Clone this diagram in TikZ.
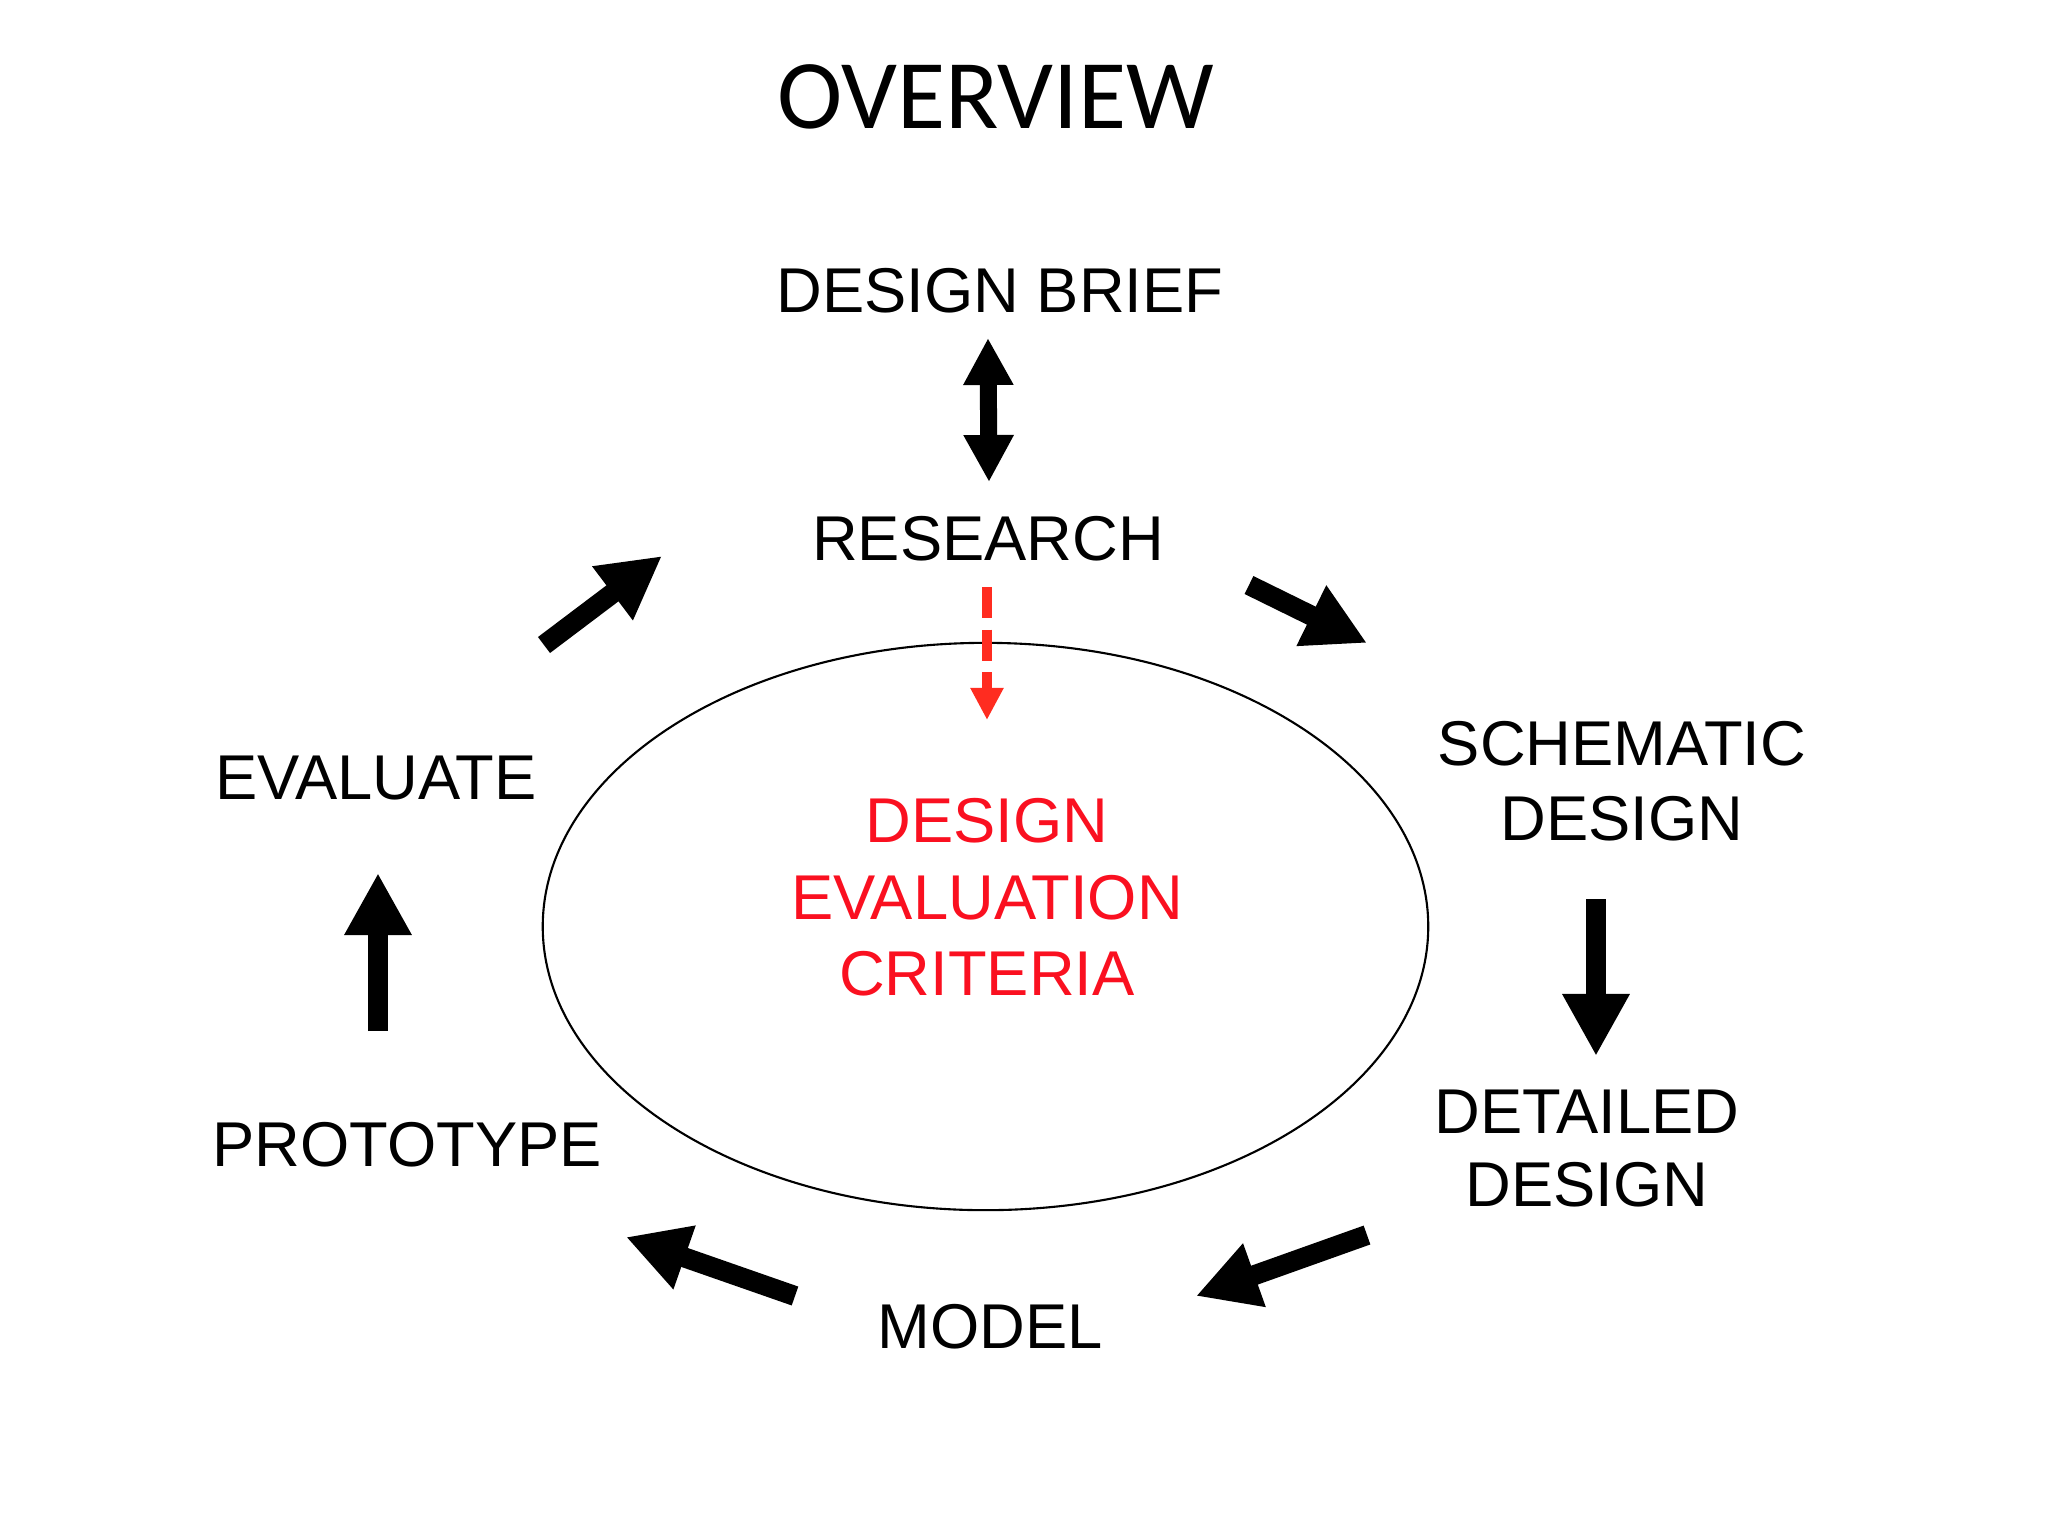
\documentclass[tikz,border=0pt]{standalone}
\usepackage{fontspec}
\setmainfont{Liberation Sans}
\newfontfamily\titlefont{Carlito}
\usetikzlibrary{arrows.meta,shapes.geometric}
\definecolor{txtred}{RGB}{250,16,32}
\definecolor{arrred}{RGB}{255,44,32}
\begin{document}
\begin{tikzpicture}[x=0.01cm,y=-0.01cm,
  lbl/.style={font=\fontsize{18}{21.5}\selectfont, inner sep=0pt, align=center},
  ttl/.style={font=\titlefont\fontsize{28}{34}\selectfont, inner sep=0pt},
  blk/.style={draw=black, line width=0.2cm, -{Triangle[length=0.62cm,width=0.63cm]}},
  dbl/.style={draw=black, line width=0.17cm, {Triangle[length=0.47cm,width=0.47cm]}-{Triangle[length=0.47cm,width=0.47cm]}},
  reddash/.style={draw=arrred, line width=0.1cm, dash pattern=on 0.31cm off 0.115cm, -{Triangle[length=0.32cm,width=0.31cm]}}]
\fill[white] (0,0) rectangle (2062,1532);
\useasboundingbox (0,0) rectangle (2062,1532);

% ellipse
\node[draw=black, line width=0.6pt, ellipse, minimum width=8.85cm, minimum height=5.67cm, inner sep=0pt] (oval) at (985.5,926.5) {};

% texts
\node[ttl, anchor=base] (title) at (996,128) {OVERVIEW};
\node[lbl, anchor=base] (brief) at (1000,312) {DESIGN BRIEF};
\node[lbl, anchor=base] (research) at (988,560) {RESEARCH};
\node[lbl, font=\fontsize{18}{21.3}\selectfont] (schem) at (1622,781) {SCHEMATIC\\DESIGN};
\node[lbl, font=\fontsize{18}{21}\selectfont] (detail) at (1587,1148.5) {DETAILED\\DESIGN};
\node[lbl, anchor=base] (model) at (990,1348) {MODEL};
\node[lbl, anchor=base] (proto) at (407,1166) {PROTOTYPE};
\node[lbl, anchor=base] (evalu) at (376,799) {EVALUATE};
\node[lbl, text=txtred, font=\fontsize{18}{21.8}\selectfont] (crit) at (987,897.5) {DESIGN\\EVALUATION\\CRITERIA};

% arrow end points
\coordinate (dbT) at (988,338);
\coordinate (dbB) at (989,482);
\coordinate (urA) at (1249,585);
\coordinate (urB) at (1367,643);
\coordinate (dnA) at (1596,899);
\coordinate (dnB) at (1596,1056);
\coordinate (brA) at (1367,1235);
\coordinate (brB) at (1196,1296);
\coordinate (blA) at (795,1296);
\coordinate (blB) at (626,1237);
\coordinate (upA) at (378,1031);
\coordinate (upB) at (378,873);
\coordinate (ulA) at (544,645);
\coordinate (ulB) at (662,556);
\coordinate (rdA) at (987,587);
\coordinate (rdB) at (987,720);

% arrows
\draw[dbl] (dbT) -- (dbB);
\draw[blk] (urA) -- (urB);
\draw[blk] (dnA) -- (dnB);
\draw[blk] (brA) -- (brB);
\draw[blk] (blA) -- (blB);
\draw[blk] (upA) -- (upB);
\draw[blk] (ulA) -- (ulB);
\draw[reddash] (rdA) -- (rdB);
\end{tikzpicture}
\end{document}
